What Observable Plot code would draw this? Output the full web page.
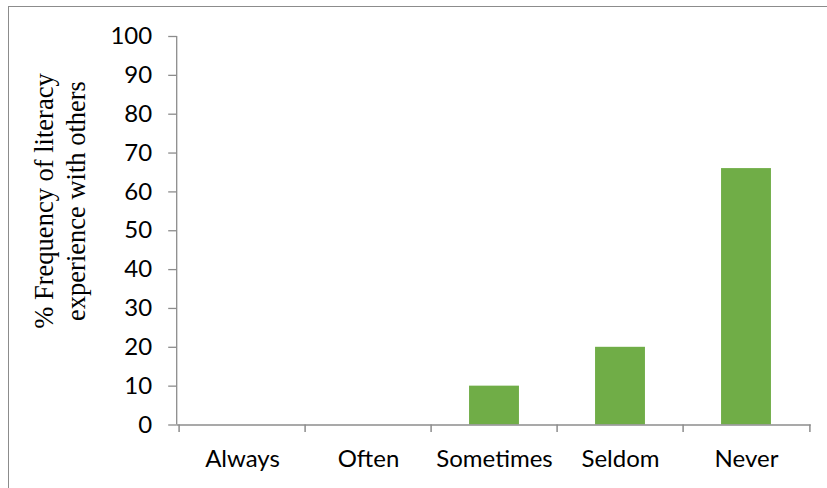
<!DOCTYPE html>
<html>
<head>
<meta charset="utf-8">
<script src="https://cdn.jsdelivr.net/npm/d3@7"></script>
<script src="https://cdn.jsdelivr.net/npm/@observablehq/plot@0.6"></script>
<style>
  html, body { margin: 0; padding: 0; background: #fff; }
  #wrap { position: relative; width: 827px; height: 488px; overflow: hidden; }
  #border { position: absolute; left: 8px; top: 6px; width: 830px; height: 500px; border: 1.5px solid #8c8c8c; box-sizing: border-box; }
  #chart { position: absolute; left: 0; top: 0; }
</style>
</head>
<body>
<div id="wrap"><div id="border"></div><div id="chart"></div></div>
<script>
const categories = ["Always", "Often", "Sometimes", "Seldom", "Never"];
const values = [0, 0, 10, 20, 66];
const yTicks = [0, 10, 20, 30, 40, 50, 60, 70, 80, 90, 100];
const yTitle = ["% Frequency of literacy", "experience with others"];

const data = categories.map((c, i) => ({category: c, value: values[i]}));

const W = 827, H = 488;
const mLeft = 176.7, mRight = 827 - 810.7, mTop = 36, mBottom = 488 - 424.5;
const band = (W - mLeft - mRight) / categories.length;
const inset = (band - 50.7) / 2;
const axisColor = "#8c8c8c";
const sans = "Lato, 'Open Sans', sans-serif";
const fs = 24;

const plot = Plot.plot({
  width: W,
  height: H,
  marginLeft: mLeft,
  marginRight: mRight,
  marginTop: mTop,
  marginBottom: mBottom,
  style: {fontFamily: sans, fontSize: fs + "px", color: "#000", background: "transparent", overflow: "visible"},
  x: {domain: categories, padding: 0},
  y: {domain: [0, 100], ticks: yTicks},
  marks: [
    Plot.barY(data, {x: "category", y: "value", fill: "#70AD47", insetLeft: inset, insetRight: inset}),
    Plot.ruleY([0], {stroke: axisColor, strokeWidth: 1.5}),
    Plot.axisY({ticks: yTicks, tickSize: 8.5, tickPadding: 16.5, stroke: axisColor, strokeWidth: 1.3, label: null, fontSize: fs, fill: "#000"}),
    Plot.axisX({tickSize: 7.5, dx: -band / 2, text: null, label: null, stroke: axisColor, strokeWidth: 1.5}),
    Plot.axisX({ticks: ["Never"], tickSize: 7.5, dx: band / 2, text: null, label: null, stroke: axisColor, strokeWidth: 1.5}),
    Plot.axisX({tickSize: 0, tickPadding: 25, label: null, fontSize: fs, fill: "#000"})
  ]
});

document.getElementById("chart").appendChild(plot);

// y axis line (domain line) and rotated two-line title
const svg = d3.select(plot);
const ys = plot.scale("y");
svg.append("line")
  .attr("x1", mLeft).attr("x2", mLeft)
  .attr("y1", ys.apply(100)).attr("y2", ys.apply(0))
  .attr("stroke", axisColor).attr("stroke-width", 1.3);

const t = svg.append("text")
  .attr("transform", "translate(53,201) rotate(-90)")
  .attr("text-anchor", "middle")
  .attr("font-family", "'Liberation Serif', 'Times New Roman', serif")
  .attr("font-size", 26.5)
  .attr("fill", "#000");
yTitle.forEach((line, i) => {
  t.append("tspan").attr("x", 0).attr("dy", i === 0 ? "0" : "32px").text(line);
});
</script>
</body>
</html>
